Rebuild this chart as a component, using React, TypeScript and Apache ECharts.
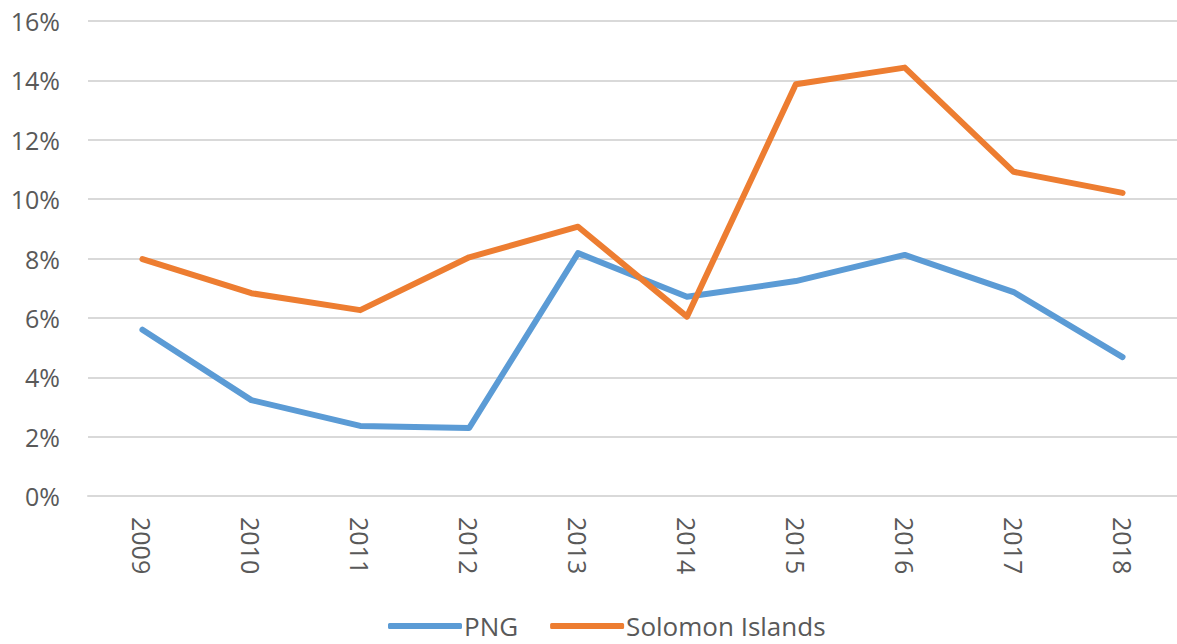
import React, { useEffect, useRef } from "react";
import * as echarts from "echarts";

const years = ["2009", "2010", "2011", "2012", "2013", "2014", "2015", "2016", "2017", "2018"];
const png = [5.6, 3.23, 2.36, 2.29, 8.18, 6.71, 7.24, 8.12, 6.87, 4.68];
const solomon = [7.98, 6.83, 6.26, 8.04, 9.07, 6.04, 13.87, 14.43, 10.92, 10.21];
const yTicks = { min: 0, max: 16, interval: 2 };

export default function App() {
  const ref = useRef<HTMLDivElement>(null);
  useEffect(() => {
    const chart = echarts.init(ref.current!, null, { renderer: "svg" });
    const font = "'Open Sans', 'Noto Sans', sans-serif";
    chart.setOption({
      animation: false,
      backgroundColor: "#ffffff",
      grid: { left: 88, right: -8, top: 21, bottom: 148, containLabel: false },
      legend: {
        bottom: 0,
        left: 383,
        icon: "roundRect",
        itemWidth: 74,
        itemHeight: 6,
        itemGap: 32,
        textStyle: { fontFamily: font, fontSize: 26, color: "#595959", padding: [0, 0, 0, -3] },
        data: ["PNG", "Solomon Islands"],
      },
      xAxis: {
        type: "category",
        data: years,
        boundaryGap: true,
        axisLine: { show: true, lineStyle: { color: "#d9d9d9", width: 2 } },
        axisTick: { show: false },
        axisLabel: {
          rotate: -90,
          margin: 21,
          fontFamily: font,
          fontSize: 25,
          color: "#595959",
        },
      },
      yAxis: {
        type: "value",
        min: yTicks.min,
        max: yTicks.max,
        interval: yTicks.interval,
        axisLine: { show: false },
        axisTick: { show: false },
        splitLine: { lineStyle: { color: "#d9d9d9", width: 2 } },
        axisLabel: {
          formatter: (v: number) => `${v}%`,
          margin: 28,
          fontFamily: font,
          fontSize: 25,
          color: "#595959",
        },
      },
      series: [
        {
          name: "PNG",
          type: "line",
          data: png,
          symbol: "none",
          lineStyle: { color: "#5B9BD5", width: 6, cap: "round", join: "round" },
          itemStyle: { color: "#5B9BD5" },
        },
        {
          name: "Solomon Islands",
          type: "line",
          data: solomon,
          symbol: "none",
          lineStyle: { color: "#ED7D31", width: 6, cap: "round", join: "round" },
          itemStyle: { color: "#ED7D31" },
        },
      ],
    });
    return () => chart.dispose();
  }, []);
  return (
    <div
      ref={ref}
      style={{ position: "fixed", left: 0, top: 0, width: 1177, height: 644, background: "#fff" }}
    />
  );
}
